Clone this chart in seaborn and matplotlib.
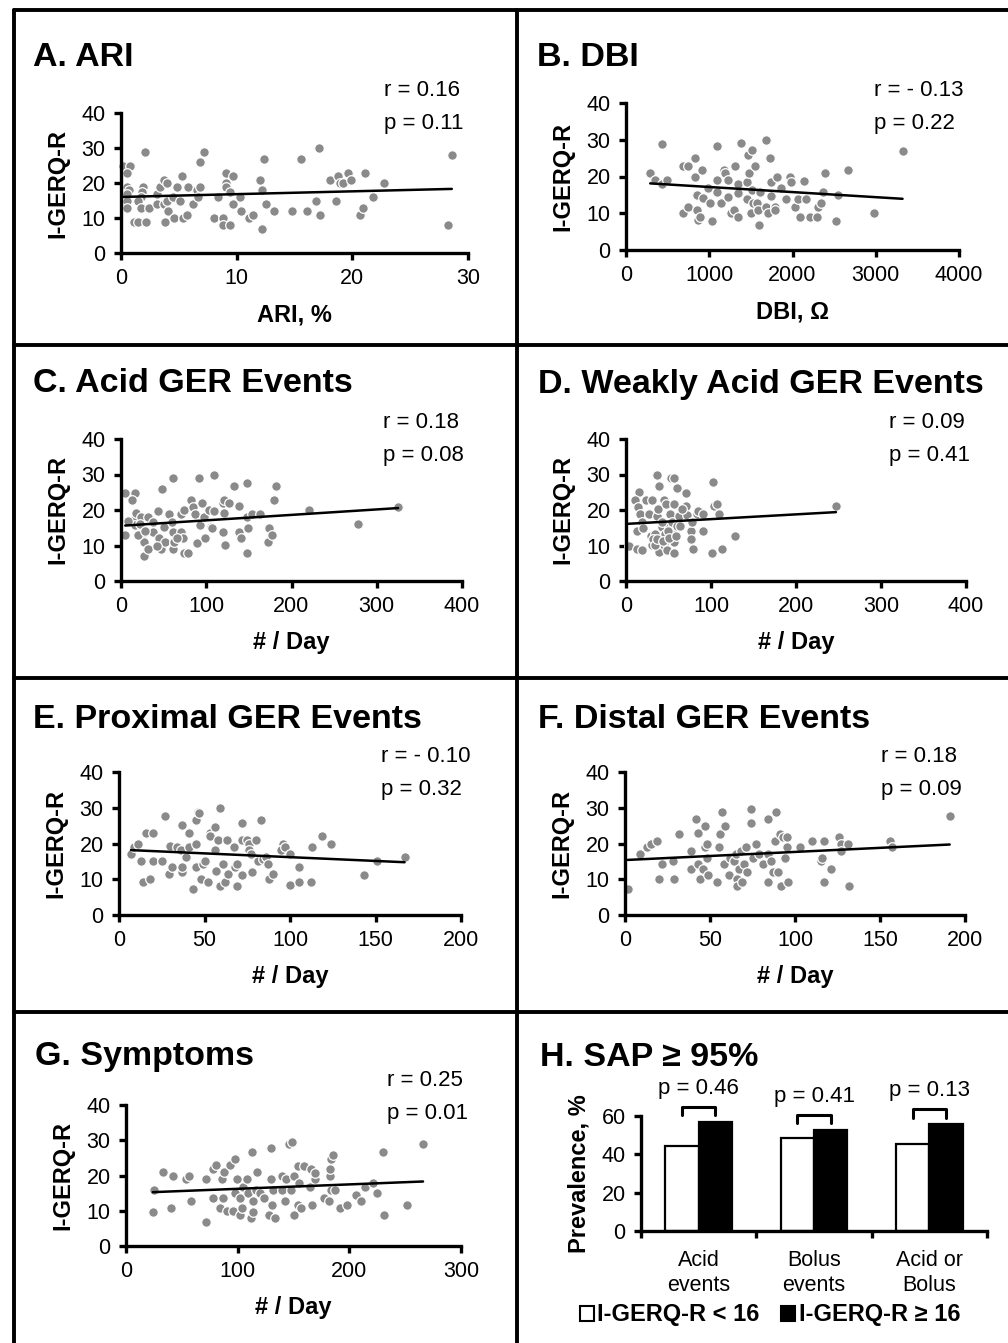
import numpy as np
import pandas as pd
import matplotlib
matplotlib.use('Agg')
import matplotlib.pyplot as plt
from matplotlib.lines import Line2D
from matplotlib.patches import Patch
import seaborn as sns

# ==========================================
# Data
# ==========================================
# A. ARI (%)
ari_x = [0.2, 0.8, 0.5, 0.5, 0.7, 0.5, 0.5, 0.5, 1.1, 1.5,
         2.2, 2.1, 1.9, 1.8, 1.7, 1.5, 1.7, 2.4, 3.1, 3.4,
         3.7, 4.0, 3.1, 3.7, 4.0, 4.1, 3.8, 4.6, 4.8, 4.5,
         5.1, 5.3, 5.4, 5.7, 5.8, 6.2, 6.6, 6.8, 6.8, 7.2,
         6.7, 8.0, 8.4, 8.8, 8.8, 9.4, 9.1, 9.7, 9.1, 9.1,
         9.4, 9.7, 10.3, 10.4, 11.1, 11.4, 12.0, 12.2, 12.4, 12.5,
         12.2, 13.2, 14.8, 15.6, 16.1, 16.9, 17.1, 17.2, 18.1, 18.6,
         18.8, 18.9, 19.2, 19.6, 19.9, 20.7, 20.9, 21.1, 21.8, 22.7,
         28.3, 28.6]
ari_y = [25, 25, 23, 19, 18, 17, 15, 13, 9, 9,
         9, 29, 19, 17.5, 16, 15, 13, 13, 17, 19,
         21, 20, 14, 14, 15, 12, 9, 10, 19, 16,
         15, 22, 10, 11, 19, 14, 18, 19, 26, 29,
         16, 10, 16, 10, 8, 8, 23, 22, 20, 19,
         17.5, 14, 16, 12, 10, 11, 21, 18, 27, 14,
         7, 12, 12, 27, 12, 15, 30, 11, 21, 15,
         22, 20, 20, 23, 21, 11, 13, 23, 16, 20,
         8, 28]

# B. DBI (Ohm)
dbi_x = [291, 351, 431, 431, 490, 690, 742, 690, 750, 833,
         833, 909, 849, 929, 849, 869, 889, 989, 1009, 1037,
         1089, 1089, 1089, 1140, 1176, 1188, 1228, 1228, 1260, 1300,
         1308, 1340, 1340, 1380, 1348, 1448, 1448, 1476, 1468, 1516,
         1555, 1508, 1528, 1500, 1579, 1587, 1595, 1607, 1687, 1727,
         1739, 1747, 1687, 1707, 1787, 1795, 1819, 1866, 1926, 1966,
         1978, 2026, 2066, 2086, 2138, 2166, 2206, 2297, 2305, 2345,
         2365, 2393, 2544, 2524, 2664, 2975, 3322]
dbi_y = [20.9, 19.1, 28.9, 18, 19.1, 22.9, 22.9, 10, 11.8, 24.9,
         20, 21.8, 15, 14.1, 10.9, 8.2, 8.9, 16.8, 12.9, 8,
         28.2, 19.1, 15.9, 12.9, 21.8, 20.9, 19.1, 14.5, 10, 10.9,
         22.9, 8.9, 18, 29.1, 15.5, 18.6, 13.8, 20.9, 25.9, 27.1,
         22.9, 16.4, 12.7, 10, 12.7, 10.9, 6.8, 15.9, 30, 24.9,
         18.6, 14.7, 11.8, 10, 11.8, 10.9, 20, 16.8, 13.8, 20,
         18.6, 11.8, 13.8, 8.9, 18.9, 13.8, 8.9, 8.9, 11.8, 12.9,
         15.9, 20.9, 15, 8, 21.8, 10, 26.9]

# C. Acid GER events (# / day)
acid_x = [5, 17, 5, 13, 14, 18, 23, 17, 25, 27,
          27, 32, 32, 38, 38, 43, 45, 47, 48, 50,
          52, 56, 60, 61, 61, 61, 62, 70, 70, 74,
          73, 74, 79, 82, 84, 87, 89, 91, 95, 93,
          97, 98, 103, 106, 109, 109, 107, 120, 121, 121,
          120, 122, 127, 133, 138, 139, 141, 148, 148, 149,
          148, 154, 163, 174, 173, 177, 180, 182, 221, 278,
          325, 8, 20, 22, 28, 42, 66]
acid_y = [24.9, 24.9, 12.9, 22.8, 17.2, 19.1, 18.1, 15.8, 12.9, 11,
          7, 18.1, 8.9, 16.7, 13.9, 19.8, 12, 8.9, 25.8, 15.3,
          11, 18.9, 16.7, 29, 13.9, 8.9, 11, 18.9, 13.9, 20,
          12, 7.9, 7.9, 22.8, 20.9, 18.9, 10.6, 29, 21.9, 15.8,
          17.9, 12, 20, 15.3, 29.9, 19.8, 14.8, 21.9, 22.8, 19.1,
          13.9, 10.1, 21.9, 26.9, 21.1, 13.9, 12, 27.7, 17.9, 14.8,
          7.9, 18.9, 18.9, 14.8, 11, 12.9, 22.8, 26.9, 20, 16,
          20.9, 17, 13, 16, 14, 10, 12]

# D. Weakly acid GER events (# / day)
weak_x = [3, 13, 19, 15, 10, 14, 17, 13, 19, 20,
          23, 31, 27, 29, 30, 34, 36, 37, 39, 38,
          39, 42, 45, 47, 46, 45, 48, 50, 53, 57,
          56, 52, 54, 58, 56, 56, 60, 62, 60, 70,
          70, 72, 76, 76, 79, 83, 85, 90, 91, 101,
          102, 103, 107, 109, 113, 128, 247, 32, 34, 36,
          44, 42, 49, 51, 59, 64, 66, 78]
weak_y = [10, 9, 8.7, 25.1, 22.9, 20.9, 19, 14, 16.6, 15,
          22.7, 22.9, 19, 12.8, 10.2, 13.3, 18.2, 29.9, 26.7, 20.4,
          8.1, 15.2, 22.7, 21.8, 13.3, 10.2, 8.7, 15.2, 28.9, 28.9,
          21.8, 19, 16.6, 13.7, 10.9, 7.8, 26.1, 18.2, 15.6, 24.8,
          21, 18.5, 14, 11.8, 9, 19, 19.7, 19, 14, 7.8,
          28, 21, 21.8, 19, 9, 12.8, 21, 11.8, 10.2, 11.8,
          11.4, 16.6, 14.2, 12.1, 12.8, 15.6, 20.4, 16.6]

# E. Proximal GER events (# / day)
prox_x = [7, 9, 11, 13, 14, 16, 18, 20, 20, 25,
          27, 29, 30, 31, 34, 36, 37, 37, 37, 39,
          41, 41, 43, 45, 45, 45, 46, 47, 48, 49,
          50, 52, 53, 53, 56, 56, 57, 58, 59, 59,
          61, 62, 63, 64, 67, 68, 69, 69, 72, 72,
          72, 75, 76, 76, 77, 78, 80, 81, 83, 84,
          86, 87, 88, 90, 96, 95, 97, 100, 100, 105,
          105, 112, 113, 119, 124, 143, 151, 167]
prox_y = [17, 19.1, 20, 15.2, 9.3, 23, 10.2, 23, 15.2, 15.2,
          27.6, 11.4, 19.3, 13.3, 19.1, 18.1, 25.1, 12.1, 13.3, 16.1,
          22.8, 19.1, 7.2, 20, 26.7, 13.3, 28.8, 28.6, 10.2, 14.2,
          15.2, 9.3, 23, 22, 24.7, 18.1, 12.4, 21, 29.8, 8.1,
          14.2, 9.3, 21, 11.4, 19.1, 13.3, 14.2, 8.1, 25.8, 21,
          11.2, 21, 20, 18.1, 17.2, 12.1, 21, 15.2, 26.7, 15.8,
          16.1, 14.2, 10.2, 11.4, 20, 18.1, 19.1, 17.2, 8.4, 13.3,
          9.3, 9.3, 19.1, 22, 20, 11.2, 15.2, 16.1]

# F. Distal GER events (# / day)
dist_x = [1.6, 9, 13, 15, 19, 20, 22, 28, 29, 32,
          39, 39, 42, 43, 43, 44, 46, 47, 47, 48,
          48, 49, 54, 55, 56, 57, 59, 58, 61, 62,
          64, 65, 66, 66, 67, 68, 69, 70, 71, 72,
          74, 74, 75, 77, 79, 81, 84, 84, 84, 86,
          87, 88, 89, 90, 91, 92, 93, 94, 95, 96,
          95, 103, 110, 115, 116, 117, 117, 121, 126, 127,
          127, 131, 132, 156, 157, 191]
dist_y = [7.2, 17, 19.1, 20, 20.8, 10, 14.2, 15.2, 10, 22.7,
          18, 12.8, 26.9, 22.9, 14.4, 10, 12.8, 25, 18.9, 19.9,
          15.9, 11.2, 9.1, 18.9, 22.7, 28.8, 25, 14.2, 11.2, 15.9,
          15, 17, 10, 8.1, 12.8, 18, 9.1, 14.2, 18.9, 11.9,
          29.7, 25.7, 15.9, 19.9, 17, 14.2, 26.9, 17, 9.1, 15.2,
          11.9, 20.8, 28.8, 11.9, 22.7, 8.1, 21.7, 15.9, 21.7, 9.1,
          18.9, 18.9, 20.8, 15, 15.9, 9.1, 20.8, 12.8, 21.7, 19.9,
          18, 19.9, 8.1, 20.8, 18.9, 27.6]

# G. Symptoms (# / day)
symp_x = [25, 24, 33, 40, 42, 54, 56, 58, 72, 72,
          78, 81, 78, 84, 86, 87, 88, 90, 93, 96,
          98, 99, 98, 102, 102, 104, 105, 108, 109, 112,
          113, 114, 114, 116, 117, 120, 124, 128, 130, 130,
          131, 132, 133, 140, 140, 142, 143, 146, 149, 148,
          150, 150, 154, 154, 155, 157, 159, 166, 167, 165,
          169, 169, 177, 182, 183, 183, 184, 185, 184, 187,
          192, 198, 206, 210, 214, 221, 225, 230, 231, 252,
          266]
symp_y = [15.8, 9.7, 20.9, 10.8, 19.9, 19.1, 19.9, 12.7, 6.8, 19,
          21.8, 22.9, 13.6, 10.8, 19, 13.6, 21, 9.9, 22.9, 9.9,
          24.8, 19, 14.9, 8.9, 13.6, 10.8, 16.8, 19, 14.9, 8,
          26.7, 12.7, 9.7, 15.8, 20.9, 14.9, 13.6, 8.9, 27.7, 19,
          11.7, 15.8, 8, 19.9, 15.8, 12.7, 19, 28.8, 29.6, 15.8,
          19.9, 8.9, 11.7, 22.7, 18, 10.8, 22.7, 21.8, 11.7, 16.8,
          19, 20.6, 13.6, 12.7, 19.9, 21.8, 24.8, 25.8, 15.8, 15.8,
          10.8, 11.7, 14.6, 12.7, 16.8, 18, 14.9, 26.7, 8.9, 11.7,
          28.8]

# Correlation annotations
r_texts = ['r = 0.16', 'r = - 0.13', 'r = 0.18', 'r = 0.09', 'r = - 0.10', 'r = 0.18', 'r = 0.25']
p_texts = ['p = 0.11', 'p = 0.22', 'p = 0.08', 'p = 0.41', 'p = 0.32', 'p = 0.09', 'p = 0.01']

# H. SAP >= 95%
sap_categories = ['Acid\nevents', 'Bolus\nevents', 'Acid or\nBolus']
sap_low = [44.3, 48.5, 45.4]     # I-GERQ-R < 16
sap_high = [56.9, 52.7, 55.8]    # I-GERQ-R >= 16
sap_pvals = ['p = 0.46', 'p = 0.41', 'p = 0.13']
sap_groups = ['I-GERQ-R < 16', 'I-GERQ-R \u2265 16']

# ==========================================
# Figure setup
# ==========================================
sns.set_style('ticks')
plt.rcParams['font.family'] = ['Liberation Sans', 'DejaVu Sans']
plt.rcParams['text.color'] = 'black'
plt.rcParams['axes.labelcolor'] = 'black'
plt.rcParams['xtick.color'] = 'black'
plt.rcParams['ytick.color'] = 'black'

W, H = 1008, 1343
fig = plt.figure(figsize=(W / 100, H / 100), dpi=100)
POINT_GRAY = '#8a8a8a'


def px_axes(x0, x1, y_top, y_bot):
    return fig.add_axes([x0 / W, 1 - y_bot / H, (x1 - x0) / W, (y_bot - y_top) / H])


def fig_text(x, y, s, **kw):
    fig.text(x / W, 1 - y / H, s, **kw)


def style_axes(ax):
    for side in ['top', 'right']:
        ax.spines[side].set_visible(False)
    for side in ['left', 'bottom']:
        ax.spines[side].set_linewidth(2.4)
        ax.spines[side].set_color('black')
    ax.tick_params(width=2.4, length=5, labelsize=15.5, colors='black', direction='out', pad=6)


def scatter_panel(ax, x, y, xmax, xstep, xlabel):
    x = np.array(x, dtype=float)
    y = np.array(y, dtype=float)
    sns.scatterplot(x=x, y=y, ax=ax, color=POINT_GRAY, edgecolor='white',
                    linewidth=0.9, s=48, zorder=2, clip_on=False)
    sns.regplot(x=x, y=y, ax=ax, scatter=False, ci=None, truncate=True,
                color='black', line_kws={'lw': 1.8, 'zorder': 3})
    ax.set_xlim(0, xmax)
    ax.set_ylim(0, 40)
    ax.set_xticks(np.arange(0, xmax + 1, xstep))
    ax.set_yticks([0, 10, 20, 30, 40])
    ax.set_xlabel(xlabel, fontsize=17, fontweight='bold', labelpad=10)
    ax.set_ylabel('I-GERQ-R', fontsize=17, fontweight='bold', labelpad=9)
    style_axes(ax)


# (x series, y series, xmax, xstep, xlabel, title, axes px box, title pos, r/p pos)
panels = [
    (ari_x, ari_y, 30, 10, 'ARI, %', 'A. ARI', (121, 468, 113, 253), (33, 57), (384, 91)),
    (dbi_x, dbi_y, 4000, 1000, 'DBI, \u03a9', 'B. DBI', (626, 959, 103, 250), (537, 57), (874, 91)),
    (acid_x, acid_y, 400, 100, '# / Day', 'C. Acid GER Events', (121, 462, 439, 581), (33, 384), (383, 423)),
    (weak_x, weak_y, 400, 100, '# / Day', 'D. Weakly Acid GER Events', (626, 966, 439, 581), (538, 384), (889, 423)),
    (prox_x, prox_y, 200, 50, '# / Day', 'E. Proximal GER Events', (119, 461, 772, 915), (33, 719), (381, 757)),
    (dist_x, dist_y, 200, 50, '# / Day', 'F. Distal GER Events', (625, 965, 772, 915), (538, 719), (881, 757)),
    (symp_x, symp_y, 300, 100, '# / Day', 'G. Symptoms', (126, 461, 1105, 1246), (35, 1056), (387, 1080)),
]

for i, (xs, ys, xmax, xstep, xlab, title, box, tpos, rpos) in enumerate(panels):
    ax = px_axes(*box)
    scatter_panel(ax, xs, ys, xmax, xstep, xlab)
    fig_text(tpos[0], tpos[1], title, fontsize=24.5, fontweight='bold', ha='left', va='center')
    fig_text(rpos[0], rpos[1], r_texts[i], fontsize=16, ha='left', va='center')
    fig_text(rpos[0], rpos[1] + 33, p_texts[i], fontsize=16, ha='left', va='center')

# ==========================================
# H. SAP bar chart
# ==========================================
axh = px_axes(641, 987, 1116, 1231)
sap_df = pd.DataFrame({
    'cat': sap_categories * 2,
    'val': sap_low + sap_high,
    'grp': [sap_groups[0]] * 3 + [sap_groups[1]] * 3,
})
sns.barplot(data=sap_df, x='cat', y='val', hue='grp', palette=['white', 'black'],
            edgecolor='black', linewidth=1.6, width=0.58, saturation=1,
            errorbar=None, legend=False, ax=axh)
axh.set_xlim(-0.5, 2.5)
axh.set_ylim(0, 60)
axh.set_yticks([0, 20, 40, 60])
style_axes(axh)
axh.set_xticks([-0.5, 0.5, 1.5, 2.5], minor=True)
axh.tick_params(axis='x', which='major', length=0, pad=14)
axh.tick_params(axis='x', which='minor', length=5, width=2.4, direction='out')
axh.set_xlabel('')
axh.set_ylabel('Prevalence, %', fontsize=17, fontweight='bold', labelpad=8)

half = 0.58 / 4
for i in range(3):
    top = max(sap_low[i], sap_high[i])
    axh.plot([i - half, i - half, i + half, i + half], [top + 3.4, top + 8, top + 8, top + 3.4],
             color='black', lw=2.2, clip_on=False)
    axh.text(i, top + 17.5, sap_pvals[i], fontsize=16, ha='center', va='center')

fig_text(540, 1057, 'H. SAP \u2265 95%', fontsize=24.5, fontweight='bold', ha='left', va='center')

fig.legend(handles=[Patch(facecolor='white', edgecolor='black', lw=1.5),
                    Patch(facecolor='black', edgecolor='black', lw=1.5)],
           labels=sap_groups, loc='center', bbox_to_anchor=(770 / W, 1 - 1315 / H),
           ncol=2, frameon=False, prop={'weight': 'bold', 'size': 17},
           handlelength=0.6, handleheight=0.6, handletextpad=0.15,
           columnspacing=0.9, borderaxespad=0)

# ==========================================
# Panel borders
# ==========================================
bkw = dict(color='black', lw=2.8, transform=fig.transFigure)
fig.add_artist(Line2D([14 / W, 14 / W], [0, 1 - 10 / H], **bkw))
fig.add_artist(Line2D([14 / W, 1], [1 - 10 / H, 1 - 10 / H], **bkw))
fig.add_artist(Line2D([517 / W, 517 / W], [0, 1 - 10 / H], **bkw))
for yb in [345, 678, 1012]:
    fig.add_artist(Line2D([14 / W, 1], [1 - yb / H, 1 - yb / H], **bkw))

fig.savefig('out.png', dpi=100)
